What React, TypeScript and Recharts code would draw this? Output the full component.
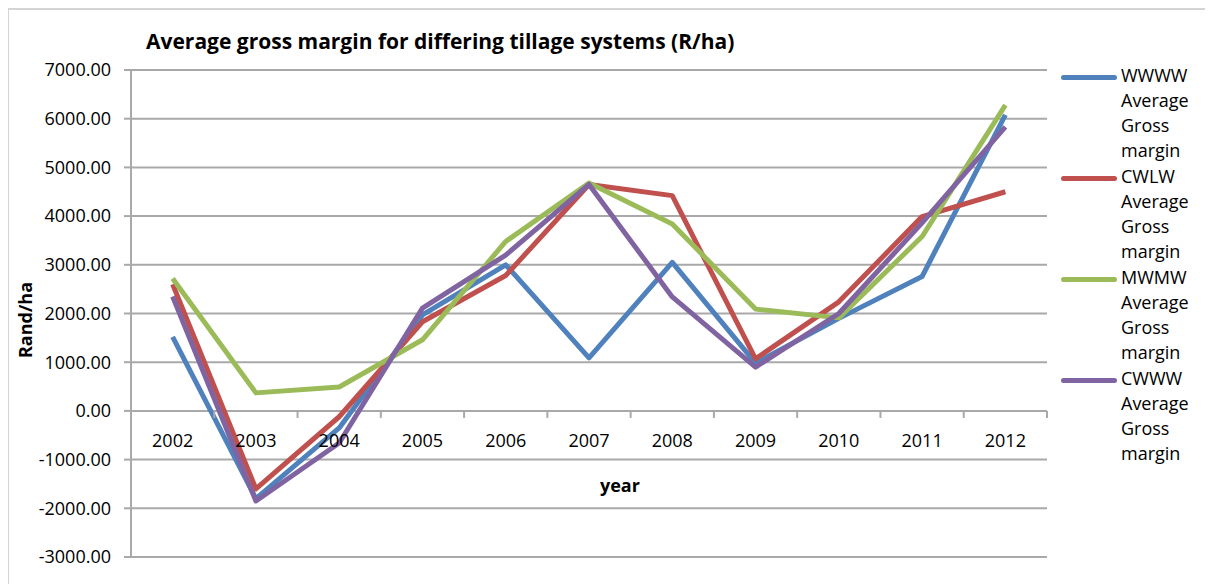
import React from "react";
import {
  ComposedChart,
  Line,
  XAxis,
  YAxis,
  CartesianGrid,
} from "recharts";

const years = ["2002", "2003", "2004", "2005", "2006", "2007", "2008", "2009", "2010", "2011", "2012"];

const wwww = [1520, -1800, -350, 1970, 3000, 1090, 3050, 980, 1900, 2760, 6080];
const cwlw = [2600, -1600, -120, 1830, 2780, 4650, 4420, 1070, 2240, 3990, 4500];
const mwmw = [2720, 370, 490, 1460, 3480, 4680, 3840, 2090, 1910, 3580, 6280];
const cwww = [2350, -1850, -660, 2110, 3200, 4650, 2340, 900, 2000, 3860, 5830];

const yTicks = [-3000, -2000, -1000, 0, 1000, 2000, 3000, 4000, 5000, 6000, 7000];

const series = [
  { key: "wwww", name: "WWWW Average Gross margin", values: wwww, color: "#4F81BD" },
  { key: "cwlw", name: "CWLW Average Gross margin", values: cwlw, color: "#C0504D" },
  { key: "mwmw", name: "MWMW Average Gross margin", values: mwmw, color: "#9BBB59" },
  { key: "cwww", name: "CWWW Average Gross margin", values: cwww, color: "#8064A2" },
];

const data = years.map((year, i) => {
  const row: Record<string, string | number> = { year };
  series.forEach((s) => (row[s.key] = s.values[i]));
  return row;
});

const FONT = "'Open Sans', Lato, sans-serif";
const GRID = "#a9a9a9";

// chart box and plot area (chart coordinates)
const W = 1205;
const H = 576;
const M = { top: 62, right: 166, bottom: 7, left: 13 };
const Y_AXIS_W = 110;
const X_AXIS_H = 20;
const PLOT_W = W - M.left - M.right - Y_AXIS_W;
const PLOT_H = H - M.top - M.bottom - X_AXIS_H;
const Y_MIN = -3000;
const Y_MAX = 7000;
// the category axis sits on the zero line, not at the bottom
const ZERO_Y = M.top + (PLOT_H * Y_MAX) / (Y_MAX - Y_MIN);
const BAND = PLOT_W / years.length;

function YearTick(props: any) {
  const { x, payload } = props;
  // x is the band centre; tick marks sit on the band edges
  return (
    <g>
      <line x1={x + BAND / 2} x2={x + BAND / 2} y1={ZERO_Y} y2={ZERO_Y + 7} stroke={GRID} strokeWidth={2} />
      <text
        x={x}
        y={ZERO_Y + 36}
        textAnchor="middle"
        fontSize={18}
        fontFamily={FONT}
        fill="#000"
      >
        {payload.value}
      </text>
    </g>
  );
}

export default function App() {
  return (
    <div style={{ position: "relative", width: W, height: H, fontFamily: FONT }}>
      <div
        style={{
          position: "absolute",
          left: -1,
          top: 0,
          width: W + 10,
          height: H + 10,
          borderTop: "2px solid #d4d4d4",
          borderLeft: "2px solid #d4d4d4",
          boxSizing: "border-box",
        }}
      />
      <div
        style={{
          position: "absolute",
          left: 138,
          top: 19,
          fontSize: 21,
          fontWeight: 700,
          whiteSpace: "nowrap",
        }}
      >
        Average gross margin for differing tillage systems (R/ha)
      </div>
      <ComposedChart width={W} height={H} data={data} margin={M}>
        <CartesianGrid vertical={false} stroke={GRID} strokeWidth={2} />
        <XAxis
          dataKey="year"
          scale="band"
          height={X_AXIS_H}
          axisLine={false}
          tickLine={false}
          interval={0}
          tick={<YearTick />}
        />
        <YAxis
          width={Y_AXIS_W}
          domain={[Y_MIN, Y_MAX]}
          ticks={yTicks}
          interval={0}
          tickFormatter={(v: number) => v.toFixed(2)}
          axisLine={{ stroke: GRID, strokeWidth: 2 }}
          tickLine={{ stroke: GRID, strokeWidth: 2 }}
          tickSize={7}
          tickMargin={13}
          tick={{ fontSize: 18, fontFamily: FONT, fill: "#000" }}
        />
        {series.map((s) => (
          <Line
            key={s.key}
            dataKey={s.key}
            name={s.name}
            type="linear"
            stroke={s.color}
            strokeWidth={5}
            strokeLinejoin="round"
            dot={false}
            activeDot={false}
            isAnimationActive={false}
          />
        ))}
      </ComposedChart>
      <div
        style={{
          position: "absolute",
          left: 17,
          top: 312,
          transform: "translate(-50%, -50%) rotate(-90deg)",
          fontSize: 18,
          fontWeight: 700,
          whiteSpace: "nowrap",
        }}
      >
        Rand/ha
      </div>
      <div
        style={{
          position: "absolute",
          left: 592,
          top: 465,
          fontSize: 18,
          fontWeight: 700,
        }}
      >
        year
      </div>
      <div style={{ position: "absolute", left: 1053, top: 55 }}>
        {series.map((s) => (
          <div key={s.key} style={{ display: "flex", alignItems: "flex-start", height: 101 }}>
            <div
              style={{
                width: 56,
                height: 5,
                borderRadius: 3,
                background: s.color,
                marginTop: 12,
                marginRight: 4,
              }}
            />
            <div style={{ width: 84, fontSize: 18, lineHeight: "25px" }}>{s.name}</div>
          </div>
        ))}
      </div>
    </div>
  );
}
